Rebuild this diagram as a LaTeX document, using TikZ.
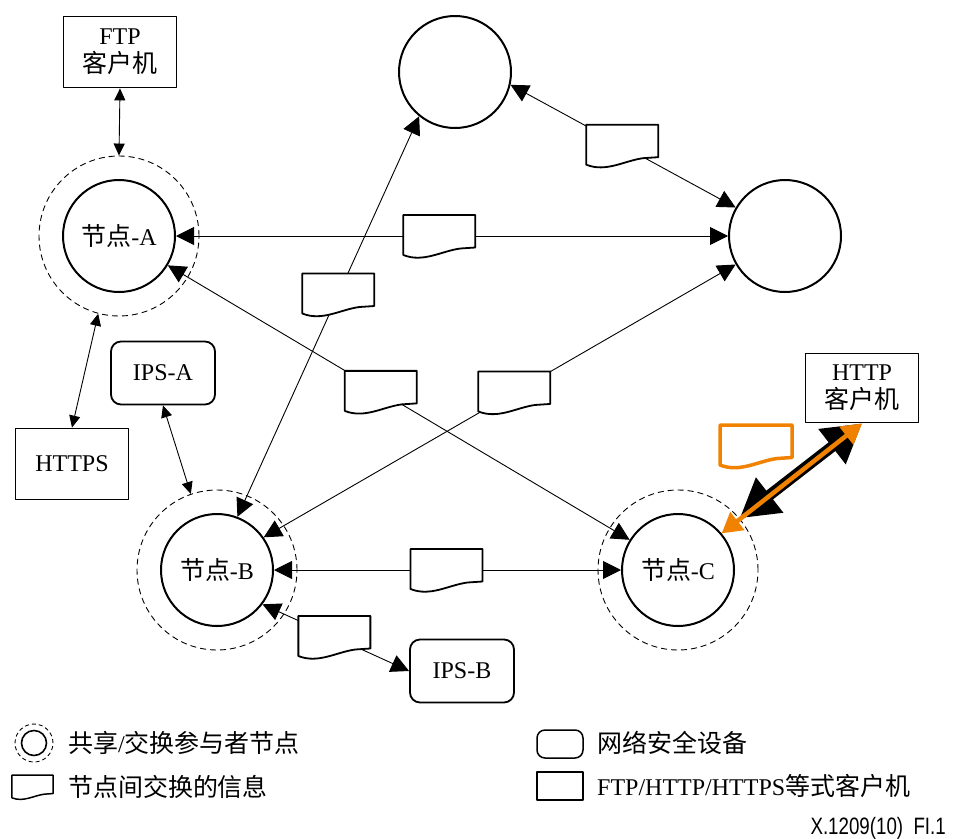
\documentclass[tikz,border=0pt]{standalone}
\usepackage{fontspec}
\usepackage{graphicx}
\setmainfont{Liberation Serif}
\newfontfamily\zhfont{Noto Sans CJK SC}[Scale=1.04]
\newfontfamily\etfont{Liberation Sans}
\newcommand\zh[1]{{\zhfont #1}}
\usetikzlibrary{arrows.meta,calc}
\definecolor{naranja}{RGB}{240,130,0}

\begin{document}
\begin{tikzpicture}[x=1pt, y=-1pt, line join=round,
  font=\fontsize{24}{28}\selectfont,
  nodo/.style={circle, draw, line width=2pt, fill=white, minimum size=112pt, inner sep=0pt},
  anillo/.style={circle, draw, dash pattern=on 6pt off 4pt, line width=0.9pt, minimum size=160pt, inner sep=0pt},
  cliente/.style={draw, line width=1.8pt, minimum width=113pt, minimum height=71pt, align=center, inner sep=0pt},
  ips/.style={draw, line width=1.8pt, rounded corners=10pt, minimum width=104pt, minimum height=63pt, inner sep=0pt},
  enlace/.style={line width=0.9pt, {Triangle[length=18pt,width=18pt]}-{Triangle[length=18pt,width=18pt]}},
  acceso/.style={line width=0.9pt, {Triangle[length=12pt,width=11pt]}-{Triangle[length=12pt,width=11pt]}},
  leyenda/.style={anchor=west, inner sep=0pt},
  grosor/.store in=\grosor, grosor=1.8pt,
  msg/.pic={\path[draw, fill=white, line width=\grosor, pic actions]
    (-36,-21) -- (36,-21) -- (36,11.5) -- (21,12.5)
    .. controls (2,15) and (-16,27) .. (-36,19) -- cycle;}]
  \useasboundingbox (0,0) rectangle (957,838);
  % los anillos de los participantes y los nodos
  \node[anillo] (rA) at (119,236) {};
  \node[anillo] (rB) at (217,570) {};
  \node[anillo] (rC) at (678,570) {};
  \node[nodo] (nA) at (119,236) {\zh{节点}-A};
  \node[nodo] (nB) at (217,570) {\zh{节点}-B};
  \node[nodo] (nC) at (678,570) {\zh{节点}-C};
  \node[nodo] (nSup) at (455,72) {};
  \node[nodo] (nDer) at (785,236) {};
  % clientes y equipos de seguridad
  \node[cliente] (ftp) at (120,52) {FTP\\\zh{客户机}};
  \node[cliente] (https) at (72,464) {HTTPS};
  \node[cliente, minimum height=69pt] (http) at (862,388) {HTTP\\\zh{客户机}};
  \node[ips] (ipsA) at (163,373) {IPS-A};
  \node[ips] (ipsB) at (462,671) {IPS-B};
  % enlaces entre nodos
  \draw[enlace] (nA.0) -- (nDer.180);
  \draw[enlace] (nA.-31) -- (nC.148);
  \draw[enlace] (nDer.210) -- (nB.35);
  \draw[enlace] (nSup.-13) -- (nDer.150);
  \draw[enlace] (nB.69) -- (nSup.231);
  \draw[enlace] (nB.0) -- (nC.180);
  \draw[enlace] (nB.-37) -- (ipsB.west);
  \draw[acceso] (ftp.south) -- (rA.90);
  \draw[acceso] (rA.255) -- (https.north);
  \draw[acceso] (ipsA.south) -- (rB.109);
  % los mensajes sobre los enlaces
  \pic at ($(nA.0)!0.477!(nDer.180)$) {msg};
  \pic at ($(nSup.-13)!0.496!(nDer.150)$) {msg};
  \pic at ($(nB.69)!0.555!(nSup.231)$) {msg};
  \pic at ($(nA.-31)!0.461!(nC.148)$) {msg};
  \pic at ($(nDer.210)!0.469!(nB.35)$) {msg};
  \pic at ($(nB.0)!0.497!(nC.180)$) {msg};
  \pic at ($(nB.-37)!0.49!(ipsB.west)$) {msg};
  % el acceso HTTP resaltado
  \draw[line width=11pt, {Triangle[length=38pt,width=42pt]}-{Triangle[length=38pt,width=42pt]}]
    (rC.40) -- (http.south);
  \draw[naranja, line width=4.5pt, {Triangle[length=20pt,width=22pt]}-{Triangle[length=20pt,width=22pt]}]
    (nC.40) -- (http.south);
  \pic[draw=naranja, grosor=3.5pt] at (756,446) {msg};
  % leyenda
  \node[circle, draw, dash pattern=on 4pt off 3pt, line width=0.9pt, minimum size=38pt, inner sep=0pt] (leyAnillo) at (34,743) {};
  \node[circle, draw, line width=1.6pt, minimum size=25pt, inner sep=0pt] (leyNodo) at (34,743) {};
  \node[leyenda] (leyTxtA) at (68,743) {\zh{共享}/\zh{交换参与者节点}};
  \pic[scale=0.57, grosor=1.5pt] at (32.5,787) {msg};
  \node[leyenda] (leyTxtB) at (68,787) {\zh{节点间交换的信息}};
  \node[draw, line width=1.5pt, rounded corners=8pt, minimum width=46pt, minimum height=28pt] (leyIps) at (560,744) {};
  \node[leyenda] (leyTxtC) at (597,743) {\zh{网络安全设备}};
  \node[draw, line width=1.5pt, minimum width=46pt, minimum height=28pt] (leyCli) at (560,786) {};
  \node[leyenda] (leyTxtD) at (597,786) {FTP/HTTP/HTTPS\zh{等式客户机}};
  \node[anchor=east, inner sep=0pt, font=\etfont\fontsize{23.7}{26}\selectfont] (figRef) at (946,828)
    {\scalebox{0.79}[1]{X.1209(10)\ \ FI.1}};
\end{tikzpicture}
\end{document}
